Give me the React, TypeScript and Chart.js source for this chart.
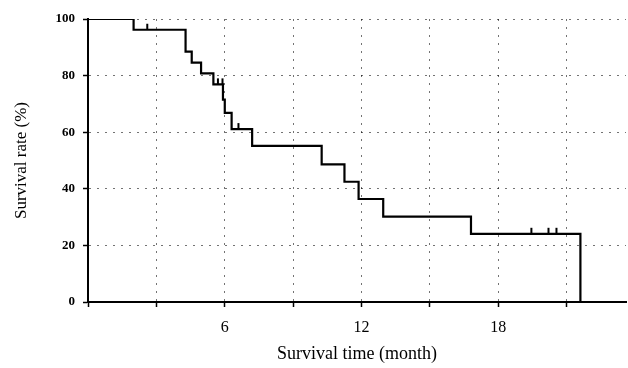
import React, { useEffect, useRef } from "react";
import { Chart, registerables } from "chart.js";

Chart.register(...registerables);

// Kaplan-Meier step points: time of drop (months) and survival after it (%)
const stepMonths = [0, 2.0, 4.28, 4.55, 4.96, 5.5, 5.92, 6.0, 6.3, 7.2, 10.25, 11.25, 11.87, 12.95, 16.8, 21.6, 23.6];
const stepSurvival = [100, 96.2, 88.5, 84.6, 80.8, 76.9, 71.5, 66.8, 61.1, 55.2, 48.6, 42.5, 36.4, 30.2, 24.1, 0, 0];

// Censored observations
const censorMonths = [2.6, 5.7, 5.9, 6.6, 19.45, 20.2, 20.55];
const censorSurvival = [96.2, 76.9, 76.9, 61.1, 24.1, 24.1, 24.1];

const xTickValues = [0, 3, 6, 9, 12, 15, 18, 21];
const xLabelValues = [6, 12, 18];
const yTickValues = [0, 20, 40, 60, 80, 100];

const xTitle = "Survival time (month)";
const yTitle = "Survival rate (%)";

const censorPlugin = {
  id: "censorTicks",
  afterDatasetsDraw(chart: any) {
    const { ctx, scales } = chart;
    const xs = scales.x;
    const ys = scales.y;
    ctx.save();
    ctx.strokeStyle = "#000";
    ctx.lineWidth = 2;
    for (let i = 0; i < censorMonths.length; i++) {
      const px = xs.getPixelForValue(censorMonths[i]);
      const py = ys.getPixelForValue(censorSurvival[i]);
      ctx.beginPath();
      ctx.moveTo(px, py);
      ctx.lineTo(px, py - 6);
      ctx.stroke();
    }
    ctx.restore();
  },
};

export default function App() {
  const ref = useRef<HTMLCanvasElement>(null);
  useEffect(() => {
    document.body.style.margin = "0";
    const canvas = ref.current!;
    const gridColor = "rgba(0,0,0,0.55)";
    const serif = "'Liberation Serif', 'Times New Roman', serif";
    const chart = new Chart(canvas, {
      type: "line",
      data: {
        datasets: [
          {
            data: stepMonths.map((m, i) => ({ x: m, y: stepSurvival[i] })),
            borderColor: "#000",
            borderWidth: 2.2,
            pointRadius: 0,
            stepped: "before",
            fill: false,
          },
        ],
      },
      options: {
        animation: false,
        responsive: false,
        maintainAspectRatio: false,
        layout: { padding: { top: 19, right: 2, left: 0, bottom: 0 } },
        plugins: {
          legend: { display: false },
          tooltip: { enabled: false },
        },
        scales: {
          x: {
            type: "linear",
            min: 0,
            max: 23.6,
            afterBuildTicks: (scale: any) => {
              scale.ticks = xTickValues.map((v) => ({ value: v }));
            },
            afterFit: (scale: any) => {
              scale.height = 66;
            },
            ticks: {
              autoSkip: false,
              maxRotation: 0,
              padding: 11,
              color: "#000",
              font: { family: serif, size: 16 },
              callback: (v: any) => (xLabelValues.includes(Number(v)) ? String(v) : ""),
            },
            grid: {
              color: (c: any) => (c.tick && c.tick.value === 0 ? "rgba(0,0,0,0)" : gridColor),
              lineWidth: 1,
              drawTicks: true,
              tickLength: 5,
              tickColor: "#000",
              tickWidth: 1.5,
              tickBorderDash: [],
            },
            border: { display: true, color: "#000", width: 2, dash: [2, 6] },
            title: {
              display: true,
              text: xTitle,
              color: "#000",
              font: { family: serif, size: 18 },
              padding: { top: 0, bottom: 3 },
            },
          },
          y: {
            type: "linear",
            min: 0,
            max: 100,
            afterBuildTicks: (scale: any) => {
              scale.ticks = yTickValues.map((v) => ({ value: v }));
            },
            afterFit: (scale: any) => {
              scale.width = 88;
            },
            ticks: {
              padding: 8,
              color: "#000",
              font: { family: serif, size: 13, weight: "bold" },
            },
            grid: {
              color: (c: any) => (c.tick && c.tick.value === 0 ? "rgba(0,0,0,0)" : gridColor),
              lineWidth: 1,
              drawTicks: true,
              tickLength: 5,
              tickColor: "#000",
              tickWidth: 1.5,
              tickBorderDash: [],
            },
            border: { display: true, color: "#000", width: 2, dash: [2, 6] },
            title: {
              display: true,
              text: yTitle,
              color: "#000",
              font: { family: serif, size: 17 },
              padding: { top: 11, bottom: 0 },
            },
          },
        },
      },
      plugins: [censorPlugin],
    });
    return () => chart.destroy();
  }, []);
  return (
    <div style={{ width: 628, height: 368 }}>
      <canvas ref={ref} width={628} height={368} style={{ display: "block" }} />
    </div>
  );
}
